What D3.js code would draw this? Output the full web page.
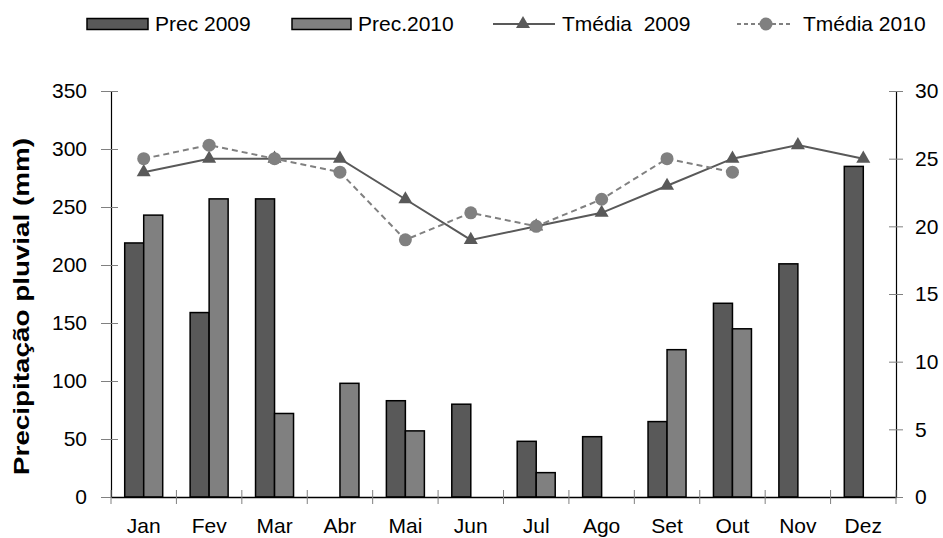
<!DOCTYPE html>
<html><head><meta charset="utf-8">
<script src="https://cdn.jsdelivr.net/npm/d3@7"></script>
<style>body{margin:0;background:#fff}svg{display:block}text{font-family:"Liberation Sans",Arial,sans-serif}</style>
</head><body><svg id="c" width="943" height="538"></svg>
<script>
const months = ["Jan","Fev","Mar","Abr","Mai","Jun","Jul","Ago","Set","Out","Nov","Dez"];
const prec2009 = [219,159,257,null,83,80,48,52,65,167,201,285];
const prec2010 = [243,257,72,98,57,null,21,null,127,145,null,null];
const tmed2009 = [24,25,25,25,22,19,20,21,23,25,26,25];
const tmed2010 = [25,26,25,24,19,21,20,22,25,24,null,null];
const leftTicks = [0,50,100,150,200,250,300,350];
const rightTicks = [0,5,10,15,20,25,30];

const svg = d3.select("#c");
const L=111,R=896,T=91,B=497;
const x = d3.scaleBand().domain(months).range([L,R]);
const yL = d3.scaleLinear().domain([0,350]).range([B,T]);
const yR = d3.scaleLinear().domain([0,30]).range([B,T]);
const bw = 19;
const dark="#595959", light="#808080";
const fs=21;

// bars
function bars(data, color, off){
  svg.append("g").selectAll("rect").data(data.map((v,i)=>({v,m:months[i]})).filter(d=>d.v!=null))
    .join("rect")
    .attr("x",d=>x(d.m)+x.bandwidth()/2+off)
    .attr("width",bw)
    .attr("y",d=>yL(d.v))
    .attr("height",d=>B-yL(d.v))
    .attr("fill",color).attr("stroke","#000").attr("stroke-width",1.5);
}
bars(prec2009,dark,-bw);
bars(prec2010,light,0);

// axes
const gL = svg.append("g").attr("transform",`translate(${L},0)`)
  .call(d3.axisLeft(yL).tickValues(leftTicks).tickSize(10).tickPadding(14));
const gR = svg.append("g").attr("transform",`translate(${R},0)`)
  .call(d3.axisRight(yR).tickValues(rightTicks).tickSize(7).tickPadding(12));
const gX = svg.append("g").attr("transform",`translate(0,${B})`)
  .call(d3.axisBottom(x).tickSize(0).tickPadding(21));
[gL,gR,gX].forEach(g=>{
  g.select(".domain").attr("stroke","#000").attr("stroke-width",1.2);
  g.selectAll("text").attr("font-size",fs).attr("fill","#000").style("font-family","Liberation Sans, Arial, sans-serif");
  g.selectAll(".tick line").attr("stroke","#808080");
});
gL.selectAll(".tick line").attr("x2",-10).attr("x1",7);
gR.selectAll(".tick line").attr("x1",-7).attr("x2",7);
gX.selectAll("text").attr("dy","0.71em");
// category boundary ticks
const bounds = months.map(m=>x(m)).concat([R]);
svg.append("g").selectAll("line").data(bounds).join("line")
  .attr("x1",d=>d).attr("x2",d=>d).attr("y1",B-7).attr("y2",B+7)
  .attr("stroke","#808080").attr("stroke-width",1);
gX.select(".domain").attr("stroke-width",1.5);

// lines
const cx = m=>x(m)+x.bandwidth()/2;
const pts09 = tmed2009.map((v,i)=>({v,m:months[i]})).filter(d=>d.v!=null);
const pts10 = tmed2010.map((v,i)=>({v,m:months[i]})).filter(d=>d.v!=null);
const line = d3.line().x(d=>cx(d.m)).y(d=>yR(d.v));
svg.append("path").datum(pts09).attr("d",line).attr("fill","none").attr("stroke",dark).attr("stroke-width",2);
svg.append("path").datum(pts10).attr("d",line).attr("fill","none").attr("stroke",light).attr("stroke-width",2).attr("stroke-dasharray","6,4");
const tri = d3.symbol().type(d3.symbolTriangle).size(85);
svg.append("g").selectAll("path").data(pts09).join("path")
  .attr("d",tri).attr("transform",d=>`translate(${cx(d.m)},${yR(d.v)})`).attr("fill",dark);
svg.append("g").selectAll("circle").data(pts10).join("circle")
  .attr("cx",d=>cx(d.m)).attr("cy",d=>yR(d.v)).attr("r",6.5).attr("fill",light);

// y title
svg.append("text").attr("transform","translate(29,306.5) rotate(-90)")
  .attr("text-anchor","middle").attr("font-size",22).attr("font-weight","bold")
  .attr("textLength",337).attr("lengthAdjust","spacingAndGlyphs")
  .text("Precipitação pluvial (mm)");

// legend
const lg = svg.append("g");
const ly=24;
lg.append("rect").attr("x",87).attr("y",18.5).attr("width",61).attr("height",11).attr("fill",dark).attr("stroke","#000").attr("stroke-width",1.5);
lg.append("text").attr("x",155).attr("y",31).attr("font-size",fs).text("Prec 2009");
lg.append("rect").attr("x",292).attr("y",18.5).attr("width",59).attr("height",11).attr("fill",light).attr("stroke","#000").attr("stroke-width",1.5);
lg.append("text").attr("x",358).attr("y",31).attr("font-size",fs).text("Prec.2010");
lg.append("line").attr("x1",493).attr("x2",555).attr("y1",ly).attr("y2",ly).attr("stroke",dark).attr("stroke-width",2);
lg.append("path").attr("d",tri).attr("transform",`translate(523,${ly})`).attr("fill",dark);
lg.append("text").attr("x",562).attr("y",31).attr("font-size",fs).attr("xml:space","preserve").style("white-space","pre").text("Tmédia  2009");
lg.append("line").attr("x1",737).attr("x2",793).attr("y1",ly).attr("y2",ly).attr("stroke",light).attr("stroke-width",2).attr("stroke-dasharray","4,3");
lg.append("circle").attr("cx",766).attr("cy",ly).attr("r",6.5).attr("fill",light);
lg.append("text").attr("x",803).attr("y",31).attr("font-size",fs).text("Tmédia 2010");
</script></body></html>
